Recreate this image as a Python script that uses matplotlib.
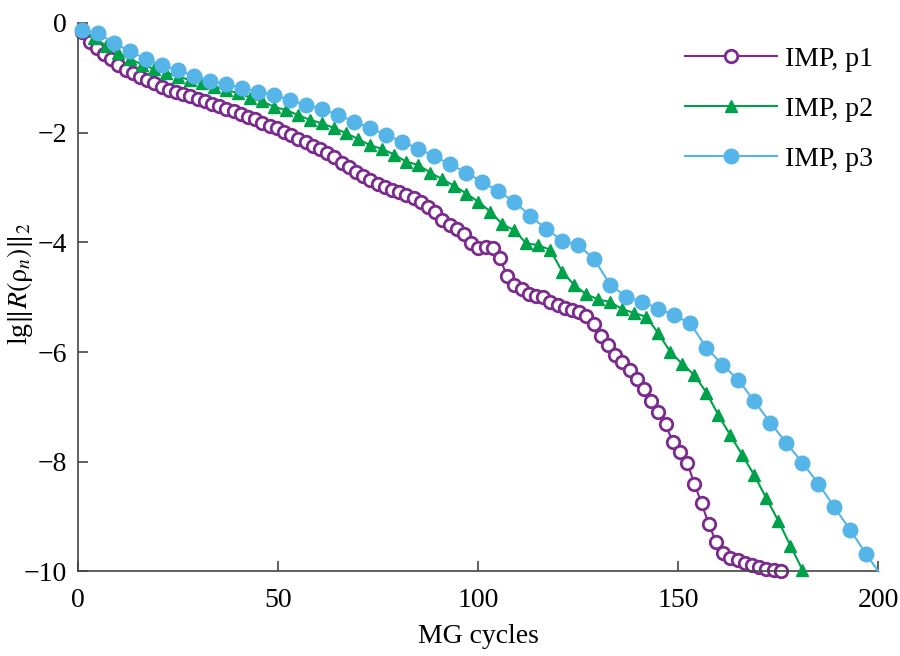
import numpy as np
import matplotlib
matplotlib.use('Agg')
import matplotlib.pyplot as plt

# MG iteration counters for each curve (markers are drawn on every stored point)
P1_X = np.arange(98) * 1.8 + 1
P2_X = np.arange(1, 182, 3)
P3_X = np.append(np.arange(1, 198, 4), 200)

P1_Y = [
    -0.16, -0.35, -0.46, -0.56, -0.66, -0.76, -0.85, -0.92, -0.98, -1.04,
    -1.10, -1.16, -1.22, -1.26, -1.29, -1.34, -1.38, -1.43, -1.47, -1.52,
    -1.56, -1.61, -1.66, -1.71, -1.76, -1.82, -1.87, -1.92, -1.98, -2.04,
    -2.11, -2.17, -2.24, -2.30, -2.38, -2.45, -2.55, -2.63, -2.71, -2.79,
    -2.86, -2.93, -2.99, -3.04, -3.09, -3.14, -3.20, -3.27, -3.35, -3.45,
    -3.60, -3.69, -3.75, -3.85, -4.01, -4.10, -4.08, -4.10, -4.29, -4.62,
    -4.77, -4.86, -4.95, -4.98, -5.00, -5.08, -5.15, -5.19, -5.24, -5.27,
    -5.34, -5.49, -5.71, -5.88, -6.05, -6.19, -6.33, -6.50, -6.67, -6.89,
    -7.09, -7.32, -7.64, -7.83, -8.02, -8.40, -8.76, -9.14, -9.46, -9.67,
    -9.75, -9.80, -9.85, -9.89, -9.92, -9.95, -9.98, -10.00,
]
P2_Y = [
    -0.13, -0.27, -0.42, -0.55, -0.66, -0.76, -0.84, -0.91, -0.98, -1.04,
    -1.10, -1.16, -1.22, -1.28, -1.36, -1.43, -1.53, -1.59, -1.68, -1.77,
    -1.83, -1.92, -2.01, -2.12, -2.23, -2.30, -2.40, -2.53, -2.59, -2.73,
    -2.85, -2.97, -3.11, -3.26, -3.44, -3.67, -3.78, -4.02, -4.05, -4.14,
    -4.54, -4.78, -4.95, -5.04, -5.09, -5.22, -5.29, -5.36, -5.66, -6.00,
    -6.22, -6.42, -6.74, -7.15, -7.52, -7.88, -8.25, -8.67, -9.08, -9.53,
    -9.97,
]
P3_Y = [
    -0.13, -0.19, -0.37, -0.52, -0.66, -0.77, -0.86, -0.97, -1.06, -1.11,
    -1.19, -1.25, -1.31, -1.41, -1.50, -1.57, -1.68, -1.80, -1.92, -2.04,
    -2.17, -2.29, -2.43, -2.58, -2.73, -2.90, -3.07, -3.26, -3.52, -3.76,
    -3.97, -4.05, -4.31, -4.78, -4.99, -5.09, -5.21, -5.33, -5.48, -5.92,
    -6.23, -6.51, -6.90, -7.29, -7.66, -8.02, -8.40, -8.83, -9.25, -9.69,
    -10.00,
]

LABELS = ['IMP, p1', 'IMP, p2', 'IMP, p3']
X_TICKS = [0, 50, 100, 150, 200]
Y_TICKS = [0, -2, -4, -6, -8, -10]

PURPLE = '#7b2a8e'
GREEN = '#00a14b'
BLUE = '#56b5e8'

plt.rcParams['font.family'] = ['Liberation Serif', 'DejaVu Serif']
plt.rcParams['mathtext.fontset'] = 'stix'
plt.rcParams['font.size'] = 20

fig = plt.figure(figsize=(9, 6.56), dpi=100)
ax = fig.add_axes([0.087, 0.129, 0.889, 0.836])

ax.plot(P1_X, P1_Y, color=PURPLE, lw=1.5, marker='o', ms=9, mfc='white',
        mec=PURPLE, mew=2.0, label=LABELS[0], clip_on=False, zorder=2)
ax.plot(P2_X, P2_Y, color=GREEN, lw=1.5, marker='^', ms=9, mfc=GREEN,
        mec=GREEN, label=LABELS[1], clip_on=False, zorder=3)
ax.plot(P3_X, P3_Y, color=BLUE, lw=1.5, marker='o', ms=10.5, mfc=BLUE,
        mec=BLUE, markevery=list(range(len(P3_Y) - 1)), label=LABELS[2],
        clip_on=False, zorder=4)

ax.set_xlim(0, 200)
ax.set_ylim(-10, 0)
ax.set_xticks(X_TICKS)
ax.set_yticks(Y_TICKS)
for side in ['top', 'right']:
    ax.spines[side].set_visible(False)
for side in ['left', 'bottom']:
    ax.spines[side].set_color('#444444')
    ax.spines[side].set_linewidth(1.2)
ax.tick_params(direction='in', length=7, width=1.2, color='#444444')
ax.tick_params(axis='x', pad=12)
ax.tick_params(axis='y', pad=8)

ax.set_xlabel('MG cycles', va='center')
ax.xaxis.set_label_coords(0.5, -0.119)
ax.set_ylabel(r'lg$\|R(\mathrm{ρ}_n)\|_2$', va='center')
ax.yaxis.set_label_coords(-0.073, 0.524)

ax.legend(loc='upper right', bbox_to_anchor=(1.025, 1.003), frameon=False,
          handlelength=3.3, labelspacing=0.88, handletextpad=0.3)

fig.savefig('out.png', dpi=100)
